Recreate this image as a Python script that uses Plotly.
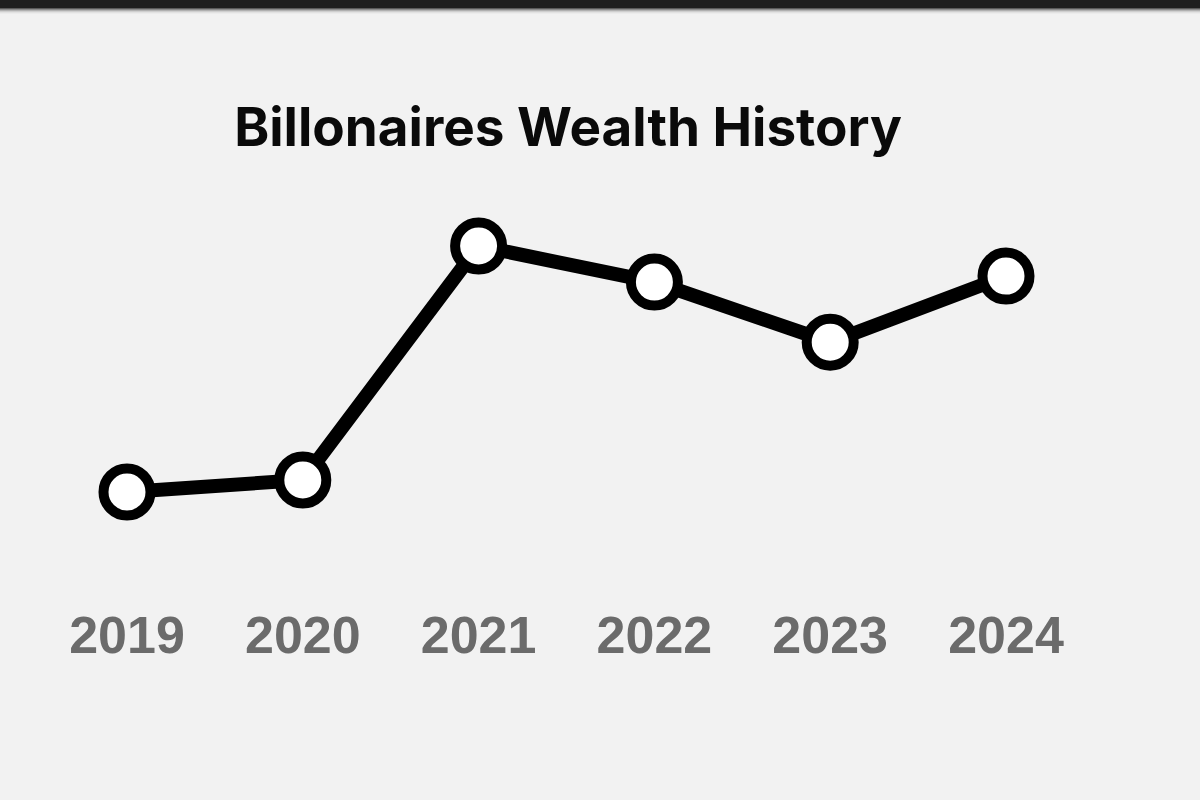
import plotly.graph_objects as go

years = [2019, 2020, 2021, 2022, 2023, 2024]
wealth = [8.6, 8.82, 13.1, 12.44, 11.34, 12.55]
tick_labels = ["2019", "2020", "2021", "2022", "2023", "2024"]
title_text = "Billonaires Wealth History"

fig = go.Figure()
fig.add_trace(go.Scatter(
    x=years, y=wealth, mode="lines+markers",
    line=dict(color="#000000", width=14),
    marker=dict(size=47, color="#ffffff", line=dict(color="#000000", width=10)),
    cliponaxis=False, hoverinfo="skip",
))

shapes = [dict(type="rect", xref="paper", yref="paper", x0=0, x1=1,
               y0=1 - 8 / 600, y1=1.01, fillcolor="#1e1e1e", line_width=0, layer="above")]
grad = ["#5a5a5a", "#8a8a8a", "#b0b0b0", "#cfcfcf", "#e2e2e2", "#ececec"]
for i, c in enumerate(grad):
    shapes.append(dict(type="rect", xref="paper", yref="paper", x0=0, x1=1,
                       y0=1 - (9 + i) / 600, y1=1 - (8 + i) / 600,
                       fillcolor=c, line_width=0, layer="above"))

fig.update_layout(
    width=1200, height=800,
    paper_bgcolor="#f2f2f2", plot_bgcolor="#f2f2f2",
    margin=dict(l=0, r=0, t=0, b=200),
    showlegend=False,
    hovermode=False,
    title=dict(text=f"<b>{title_text}</b>", x=568 / 1200, xanchor="center",
               y=1 - 127 / 800, yanchor="middle",
               font=dict(family="Inter", size=53, color="#0a0a0a")),
    xaxis=dict(range=[2018.2776, 2025.1035], tickvals=years, ticktext=tick_labels,
               showgrid=False, zeroline=False, showline=False, ticks="",
               tickfont=dict(family="Liberation Sans", size=52, color="#6b6b6b", weight=700)),
    yaxis=dict(range=[6.625, 17.599], visible=False, showgrid=False, zeroline=False),
    shapes=shapes,
)

fig.write_html("out.html", config={"displayModeBar": False},
               post_script="document.body.style.margin='0';document.body.style.background='#f2f2f2';")
